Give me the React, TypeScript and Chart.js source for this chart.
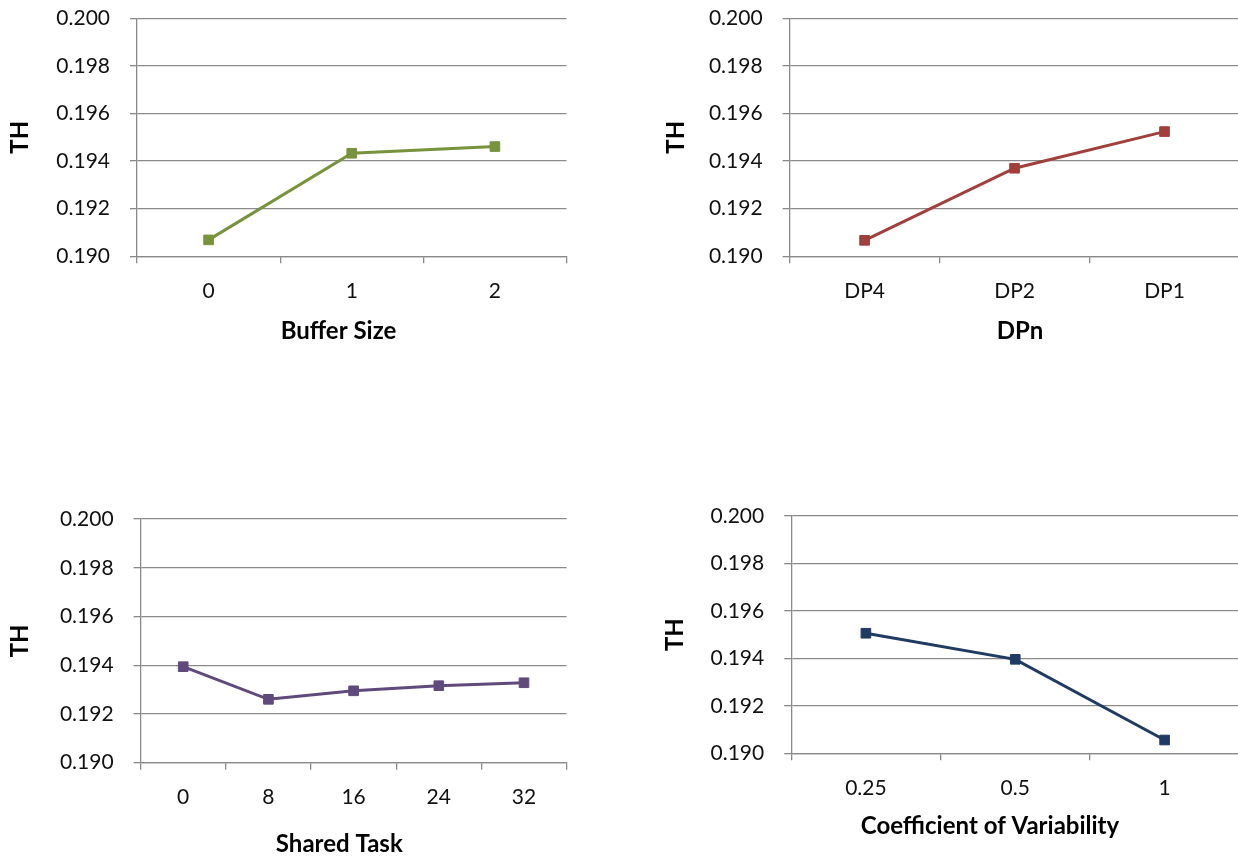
import React, { useEffect, useRef } from "react";
import { Chart, registerables } from "chart.js";

Chart.register(...registerables);

// Throughput (TH) versus each factor
const bufferLabels = ["0", "1", "2"];
const bufferTH = [0.19069, 0.19433, 0.19461];

const dpLabels = ["DP4", "DP2", "DP1"];
const dpTH = [0.19067, 0.1937, 0.19524];

const sharedLabels = ["0", "8", "16", "24", "32"];
const sharedTH = [0.19394, 0.1926, 0.19295, 0.19316, 0.19328];

const cvLabels = ["0.25", "0.5", "1"];
const cvTH = [0.19506, 0.19396, 0.19056];

// Shared value axis
const yMin = 0.19;
const yMax = 0.2;
const yStep = 0.002;

const FONT = "Lato, 'Open Sans', 'Liberation Sans', sans-serif";
const GRID = "#8a8a8a";

type Box = { left: number; right: number; top: number; bottom: number };

type PanelProps = {
  left: number;
  top: number;
  width: number;
  height: number;
  area: Box;
  labels: string[];
  values: number[];
  color: string;
  caption: string;
  captionX: number;
  captionY: number;
  yTitleX: number;
};

// Draws the horizontal axis caption beneath the category labels
const captionPlugin = {
  id: "xCaption",
  afterDraw(chart: any, _args: any, opts: any) {
    const { ctx } = chart;
    ctx.save();
    ctx.font = `bold 24px ${FONT}`;
    ctx.fillStyle = "#000";
    ctx.textAlign = "center";
    ctx.textBaseline = "alphabetic";
    ctx.fillText(opts.text, opts.x, opts.y + 24 * 0.358);
    ctx.restore();
  },
};

function Panel(p: PanelProps) {
  const ref = useRef<HTMLCanvasElement>(null);

  useEffect(() => {
    if (!ref.current) return;
    const aL = p.area.left - p.left;
    const aR = p.area.right - p.left;
    const aT = p.area.top - p.top;
    const aB = p.area.bottom - p.top;
    const xAxisH = 70;
    const titleLine = 24 * 1.2;

    const chart = new Chart(ref.current, {
      type: "line",
      data: {
        labels: p.labels,
        datasets: [
          {
            data: p.values,
            borderColor: p.color,
            backgroundColor: p.color,
            borderWidth: 3,
            tension: 0,
            pointStyle: "rect",
            pointRadius: 6.8,
            pointBorderWidth: 1,
            pointBackgroundColor: p.color,
            pointBorderColor: p.color,
            clip: false,
          },
        ],
      },
      options: {
        animation: false,
        responsive: false,
        maintainAspectRatio: false,
        layout: {
          autoPadding: false,
          padding: {
            left: 0,
            right: p.width - aR,
            top: aT,
            bottom: p.height - aB - xAxisH,
          },
        },
        plugins: {
          legend: { display: false },
          tooltip: { enabled: false },
          xCaption: {
            text: p.caption,
            x: p.captionX - p.left,
            y: p.captionY - p.top,
          },
        } as any,
        scales: {
          x: {
            type: "category",
            offset: true,
            grid: {
              offset: true,
              drawOnChartArea: false,
              color: GRID,
              lineWidth: 1.3,
              tickLength: 7,
            },
            border: { display: true, color: GRID, width: 1.3 },
            ticks: {
              color: "#111",
              font: { family: FONT, size: 21 },
              padding: 15,
              maxRotation: 0,
              autoSkip: false,
            },
            afterFit(scale: any) {
              scale.height = xAxisH;
            },
          },
          y: {
            min: yMin,
            max: yMax,
            grid: {
              color: GRID,
              lineWidth: 1.3,
              tickLength: 7,
            },
            border: { display: true, color: GRID, width: 1.3 },
            ticks: {
              stepSize: yStep,
              color: "#111",
              font: { family: FONT, size: 21 },
              padding: 20,
              callback: (v: any) => Number(v).toFixed(3),
            },
            title: {
              display: true,
              text: "TH",
              color: "#000",
              font: { family: FONT, size: 24, weight: "bold" },
              padding: { top: p.yTitleX - p.left - titleLine / 2, bottom: 0 },
            },
            afterFit(scale: any) {
              scale.width = aL;
              scale.paddingTop = 0;
              scale.paddingBottom = 0;
            },
          },
        },
      },
      plugins: [captionPlugin],
    });
    return () => chart.destroy();
  }, []);

  return (
    <canvas
      ref={ref}
      width={p.width}
      height={p.height}
      style={{
        position: "absolute",
        left: p.left,
        top: p.top,
        width: p.width,
        height: p.height,
      }}
    />
  );
}

export default function App() {
  return (
    <div
      style={{
        position: "absolute",
        left: 0,
        top: 0,
        width: 1238,
        height: 856,
        overflow: "hidden",
        background: "#fff",
      }}
    >
      <Panel
        left={0}
        top={0}
        width={619}
        height={428}
        area={{ left: 137, right: 566.5, top: 18.3, bottom: 256.3 }}
        labels={bufferLabels}
        values={bufferTH}
        color="#77933c"
        caption="Buffer Size"
        captionX={338.5}
        captionY={330}
        yTitleX={20.6}
      />
      <Panel
        left={619}
        top={0}
        width={625}
        height={428}
        area={{ left: 789.6, right: 1239.5, top: 18.3, bottom: 256.3 }}
        labels={dpLabels}
        values={dpTH}
        color="#a03f3c"
        caption="DPn"
        captionX={1020}
        captionY={330}
        yTitleX={676}
      />
      <Panel
        left={0}
        top={428}
        width={619}
        height={428}
        area={{ left: 140.6, right: 566.6, top: 519, bottom: 762.7 }}
        labels={sharedLabels}
        values={sharedTH}
        color="#604a7b"
        caption="Shared Task"
        captionX={339.3}
        captionY={843}
        yTitleX={20.6}
      />
      <Panel
        left={619}
        top={428}
        width={625}
        height={428}
        area={{ left: 791.2, right: 1239.3, top: 516, bottom: 753.3 }}
        labels={cvLabels}
        values={cvTH}
        color="#1f3b63"
        caption="Coefficient of Variability"
        captionX={990}
        captionY={825}
        yTitleX={675.5}
      />
    </div>
  );
}
